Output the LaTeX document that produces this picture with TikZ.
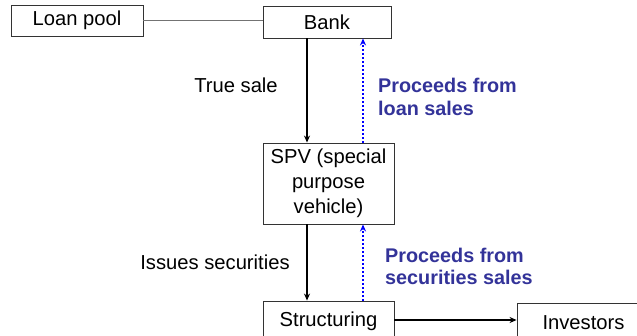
\documentclass[tikz,border=0pt]{standalone}
\usepackage{fontspec}
\setmainfont{Liberation Sans}
\usetikzlibrary{arrows.meta}
\definecolor{lbl}{HTML}{333399}
\begin{document}
\begin{tikzpicture}[x=1pt,y=1pt,
  box/.style={draw=black!80, line width=0.9pt, rectangle, inner sep=0pt, font=\fontsize{20.2}{25}\selectfont, align=center},
  arr/.style={line width=1.1pt, -{Stealth[length=7pt,width=6pt]}},
  blu/.style={blue, line width=1.6pt, dash pattern=on 1.6pt off 2.4pt, -{Stealth[length=7pt,width=6pt]}},
  lab/.style={font=\fontsize{20.2}{22}\selectfont, inner sep=0pt},
  blab/.style={font=\fontsize{19.8}{22.5}\selectfont\bfseries, text=lbl, align=left, inner sep=0pt, anchor=west}]
\useasboundingbox (0,0) rectangle (637,-335);
\clip (0,0) rectangle (637,-335);
\node[box, minimum width=132, minimum height=31] (loan) at (77,-20.5) {Loan pool};
\node[box, minimum width=128, minimum height=32] (bank) at (327,-22) {Bank};
\node[box, minimum width=131, minimum height=81] (spv) at (328.5,-183.5) {SPV (special\\purpose\\vehicle)};
\node[box, minimum width=131, minimum height=40] (str) at (328.5,-321) {Structuring};
\node[box, minimum width=133, minimum height=40] (inv) at (583.5,-323) {Investors};
\coordinate (xa) at (307,0);
\coordinate (xb) at (363,0);
\draw[black!55, line width=0.9pt] (loan.east) -- (loan.east -| bank.west);
\draw[arr] (bank.south -| xa) -- (spv.north -| xa);
\draw[blu] (spv.north -| xb) -- (bank.south -| xb);
\draw[arr] (spv.south -| xa) -- (str.north -| xa);
\draw[blu] (str.north -| xb) -- (spv.south -| xb);
\draw[arr] (str.east |- 0,-320) -- (inv.west |- 0,-320);
\node[lab] (ts) at (236,-85) {True sale};
\node[lab] (is) at (215,-262) {Issues securities};
\node[blab] (p1) at (378,-97) {Proceeds from\\loan sales};
\node[blab] (p2) at (385,-266.5) {Proceeds from\\securities sales};
\end{tikzpicture}
\end{document}
